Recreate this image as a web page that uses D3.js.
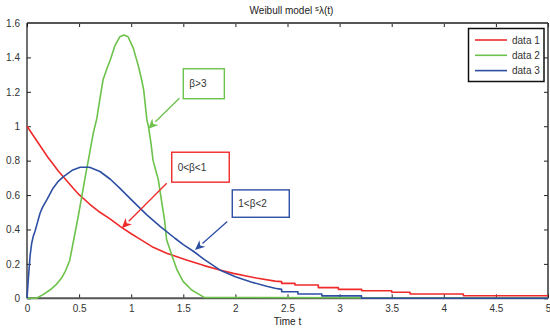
<!DOCTYPE html>
<html><head><meta charset="utf-8">
<script src="https://cdn.jsdelivr.net/npm/d3@7"></script>
<style>body{margin:0;background:#fff}text{font-family:"Liberation Sans",Arial,sans-serif}</style>
</head><body><svg id="c" width="550" height="333"></svg>
<script>
// ---- data ----
const seriesNames = ["data 1","data 2","data 3"];
const seriesColors = ["#ee2a2a","#6cc24a","#2d4fa3"];
const data1 = [[0,1.0],[0.05,0.955],[0.1,0.91],[0.15,0.865],[0.2,0.82],[0.25,0.78],[0.3,0.74],[0.35,0.705],[0.4,0.67],[0.45,0.635],[0.5,0.602],[0.6,0.548],[0.7,0.5],[0.8,0.46],[0.9,0.415],[1.0,0.375],[1.08,0.345],[1.2,0.3],[1.34,0.262],[1.53,0.223],[1.7,0.19],[1.85,0.165],[1.98,0.145],[2.2,0.118],[2.38,0.1],[2.444,0.097],[2.444,0.087],[2.572,0.087],[2.572,0.077],[2.796,0.077],[2.796,0.062],[2.988,0.062],[2.988,0.052],[3.212,0.052],[3.212,0.044],[3.5,0.044],[3.5,0.035],[3.676,0.035],[3.676,0.025],[4.188,0.025],[4.188,0.015],[5,0.015]];
const data2 = [[0,0],[0.09,0],[0.15,0.02],[0.22,0.048],[0.28,0.08],[0.33,0.116],[0.37,0.16],[0.41,0.22],[0.445,0.33],[0.49,0.47],[0.525,0.59],[0.56,0.71],[0.588,0.8],[0.636,0.96],[0.67,1.045],[0.7,1.16],[0.73,1.27],[0.77,1.34],[0.8,1.386],[0.845,1.47],[0.89,1.52],[0.93,1.53],[0.97,1.52],[1.0,1.48],[1.02,1.454],[1.05,1.39],[1.07,1.347],[1.1,1.27],[1.12,1.21],[1.15,1.04],[1.165,1.0],[1.19,0.9],[1.21,0.8],[1.26,0.69],[1.29,0.57],[1.32,0.455],[1.34,0.34],[1.39,0.25],[1.44,0.165],[1.5,0.097],[1.58,0.048],[1.66,0.02],[1.7,0.005],[3.21,0.003],[3.21,0],[5,0]];
const data3 = [[0,0],[0.012,0.106],[0.03,0.25],[0.045,0.32],[0.06,0.36],[0.077,0.39],[0.1,0.44],[0.125,0.494],[0.15,0.53],[0.19,0.572],[0.25,0.64],[0.3,0.68],[0.35,0.707],[0.44,0.746],[0.51,0.762],[0.6,0.762],[0.7,0.737],[0.8,0.692],[0.89,0.64],[1.02,0.562],[1.15,0.485],[1.28,0.417],[1.42,0.349],[1.5,0.312],[1.6,0.272],[1.7,0.226],[1.85,0.165],[2.0,0.125],[2.15,0.095],[2.3,0.07],[2.38,0.058],[2.444,0.052],[2.444,0.038],[2.6,0.038],[2.6,0.025],[2.83,0.025],[2.83,0.014],[3.21,0.014],[3.21,0],[5,0]];
const xTicks = [0,0.5,1,1.5,2,2.5,3,3.5,4,4.5,5];
const xTickLabels = ["0","0.5","1","1.5","2","2.5","3","3.5","4","4.5","5"];
const yTicks = [0,0.2,0.4,0.6,0.8,1,1.2,1.4,1.6];
const yTickLabels = ["0","0.2","0.4","0.6","0.8","1","1.2","1.4","1.6"];
const annotLabels = ["β>3","0<β<1","1<β<2"];
const annotColors = ["#6cc24a","#ee2a2a","#2d4fa3"];
// box [t0,v0,t1,v1], arrow [tFrom,vFrom,tTo,vTo]
const annotBoxes = [[1.5,1.334,1.894,1.16],[1.389,0.849,1.941,0.675],[1.97,0.63,2.517,0.471]];
const annotArrows = [[1.462,1.163,1.164,0.985],[1.341,0.669,0.909,0.407],[1.922,0.446,1.612,0.28]];

// ---- layout ----
const L=27,R=548,T=23,B=298.3;
const svg=d3.select("#c");
const x=d3.scaleLinear().domain([0,5]).range([L,R]);
const y=d3.scaleLinear().domain([0,1.6]).range([B,T]);

// axes (ticks inward)
const tickLen=4;
const gb=svg.append("g").attr("transform",`translate(0,${B})`)
  .call(d3.axisBottom(x).tickValues(xTicks).tickFormat((d,i)=>xTickLabels[i]).tickSizeInner(-tickLen).tickSizeOuter(0).tickPadding(8));
const gt=svg.append("g").attr("transform",`translate(0,${T})`)
  .call(d3.axisTop(x).tickValues(xTicks).tickFormat("").tickSizeInner(-tickLen).tickSizeOuter(0));
const gl=svg.append("g").attr("transform",`translate(${L},0)`)
  .call(d3.axisLeft(y).tickValues(yTicks).tickFormat((d,i)=>yTickLabels[i]).tickSizeInner(-tickLen).tickSizeOuter(0).tickPadding(7));
const gr=svg.append("g").attr("transform",`translate(${R},0)`)
  .call(d3.axisRight(y).tickValues(yTicks).tickFormat("").tickSizeInner(-tickLen).tickSizeOuter(0));
[gb,gt,gl,gr].forEach(g=>{
  g.selectAll(".tick line").attr("stroke","#222").attr("stroke-width",1);
  g.selectAll("text").attr("font-size",10).attr("fill","#333");
  g.select(".domain").remove();
});
gb.selectAll("text").attr("dy","0.55em");
// box
svg.append("line").attr("x1",L).attr("x2",R).attr("y1",B).attr("y2",B).attr("stroke","#555").attr("stroke-width",2);
svg.append("line").attr("x1",L).attr("x2",R).attr("y1",T).attr("y2",T).attr("stroke","#555").attr("stroke-width",2);
svg.append("line").attr("x1",L).attr("x2",L).attr("y1",T).attr("y2",B).attr("stroke","#111").attr("stroke-width",1.2);
svg.append("line").attr("x1",R).attr("x2",R).attr("y1",T).attr("y2",B).attr("stroke","#333").attr("stroke-width",1.5);

// lines (drawn over the box, as in the reference)
const line=d3.line().x(d=>x(d[0])).y(d=>y(d[1]));
[data1,data2,data3].forEach((ds,i)=>{
  svg.append("path").datum(ds).attr("d",line).attr("fill","none")
    .attr("stroke",seriesColors[i]).attr("stroke-width",1.6).attr("stroke-linejoin","round");
});

// title
const title=svg.append("text").attr("x",(L+R)/2+4).attr("y",14).attr("text-anchor","middle").attr("font-size",10).attr("fill","#222");
title.append("tspan").text("Weibull model ");
title.append("tspan").attr("font-size",8).attr("dy",-3).text("s");
title.append("tspan").attr("dy",3).text("λ(t)");
// x label
svg.append("text").attr("x",(L+R)/2).attr("y",325).attr("text-anchor","middle").attr("font-size",10).attr("fill","#222").text("Time t");

// annotations
annotBoxes.forEach((b,i)=>{
  const x0=x(b[0]),y0=y(b[1]),x1=x(b[2]),y1=y(b[3]);
  svg.append("rect").attr("x",x0).attr("y",y0).attr("width",x1-x0).attr("height",y1-y0)
    .attr("fill","#fff").attr("stroke",annotColors[i]).attr("stroke-width",1.4);
  svg.append("text").attr("x",x0+6).attr("y",(y0+y1)/2).attr("dy","0.35em").attr("font-size",10).attr("fill","#333").text(annotLabels[i]);
  const a=annotArrows[i];
  const ax0=x(a[0]),ay0=y(a[1]),ax1=x(a[2]),ay1=y(a[3]);
  const ang=Math.atan2(ay1-ay0,ax1-ax0), hl=10, hw=4.5;
  const bx=ax1-hl*Math.cos(ang), by=ay1-hl*Math.sin(ang);
  svg.append("line").attr("x1",ax0).attr("y1",ay0).attr("x2",bx).attr("y2",by).attr("stroke",annotColors[i]).attr("stroke-width",1.3);
  const p=[[ax1,ay1],[bx+hw*Math.sin(ang),by-hw*Math.cos(ang)],[ax1-hl*0.7*Math.cos(ang),ay1-hl*0.7*Math.sin(ang)],[bx-hw*Math.sin(ang),by+hw*Math.cos(ang)]];
  svg.append("path").attr("d","M"+p.map(q=>q.join(",")).join("L")+"Z").attr("fill",annotColors[i]);
});

// legend
const lg=svg.append("g");
lg.append("rect").attr("x",468.5).attr("y",28.5).attr("width",75.5).attr("height",53).attr("fill","#fff").attr("stroke","#111").attr("stroke-width",1.5);
seriesNames.forEach((n,i)=>{
  const yy=40+i*15.3;
  lg.append("line").attr("x1",475).attr("x2",507).attr("y1",yy).attr("y2",yy).attr("stroke",seriesColors[i]).attr("stroke-width",1.6);
  lg.append("text").attr("x",512).attr("y",yy).attr("dy","0.35em").attr("font-size",10).attr("fill","#333").text(n);
});
</script></body></html>
